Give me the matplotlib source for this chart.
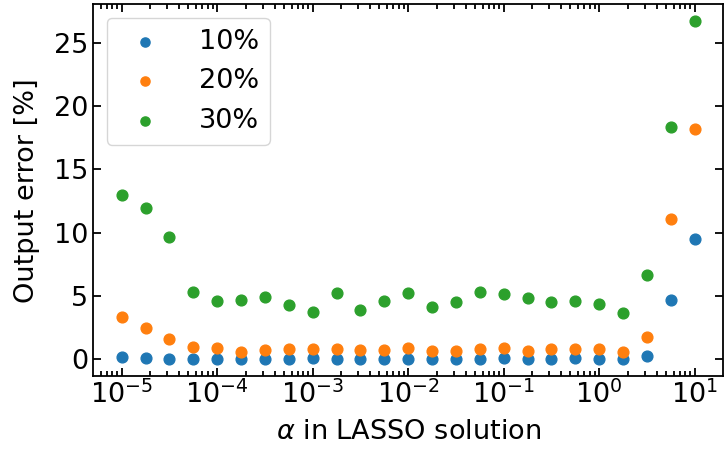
import matplotlib.pyplot as plt

alpha = [1e-5, 1.78e-5, 3.16e-5, 5.62e-5,
         1e-4, 1.78e-4, 3.16e-4, 5.62e-4,
         1e-3, 1.78e-3, 3.16e-3, 5.62e-3,
         1e-2, 1.78e-2, 3.16e-2, 5.62e-2,
         1e-1, 1.78e-1, 3.16e-1, 5.62e-1,
         1e0, 1.78e0, 3.16e0, 5.62e0,
         1e1]

err_10 = [0.13, 0.05, 0.02, 0.04, 0.03, 0.03, 0.03, 0.02, 0.08, 0.04, 0.02, 0.04, 0.03,
          0.02, 0.03, 0.04, 0.08, 0.01, 0.02, 0.05, 0.03, 0.04, 0.22, 4.68, 9.47]
err_20 = [3.30, 2.46, 1.59, 0.92, 0.84, 0.58, 0.71, 0.76, 0.76, 0.76, 0.71, 0.74, 0.87,
          0.61, 0.61, 0.82, 0.90, 0.63, 0.79, 0.79, 0.82, 0.55, 1.71, 11.06, 18.22]
err_30 = [12.96, 11.90, 9.63, 5.29, 4.55, 4.65, 4.87, 4.29, 3.70, 5.24, 3.86, 4.55, 5.24,
          4.13, 4.52, 5.32, 5.16, 4.79, 4.52, 4.55, 4.34, 3.62, 6.67, 18.37, 26.69]

labels = ["10%", "20%", "30%"]
x_ticks = [1e-5, 1e-4, 1e-3, 1e-2, 1e-1, 1e0, 1e1]
y_ticks = [0, 5, 10, 15, 20, 25]

FS = 19.5

fig, ax = plt.subplots(figsize=(7.27, 4.49), dpi=100)

for errs, lab in zip([err_10, err_20, err_30], labels):
    ax.scatter(alpha, errs, s=60, label=lab, zorder=3)

ax.set_xscale('log')
ax.set_xticks(x_ticks)
ax.set_yticks(y_ticks)
ax.set_xlabel(r"$\alpha$ in LASSO solution", fontsize=FS, labelpad=7)
ax.set_ylabel("Output error [%]", fontsize=FS, labelpad=10)

ax.tick_params(which='both', direction='in', top=True, right=True, width=1.3)
ax.tick_params(which='major', length=6, labelsize=FS)
ax.tick_params(which='minor', length=3.5)
for sp in ax.spines.values():
    sp.set_linewidth(1.3)

ax.legend(fontsize=FS, loc='upper left', handletextpad=1.0, markerscale=0.85)

fig.subplots_adjust(left=0.128, right=0.995, top=0.99, bottom=0.163)
fig.savefig("out.png")
